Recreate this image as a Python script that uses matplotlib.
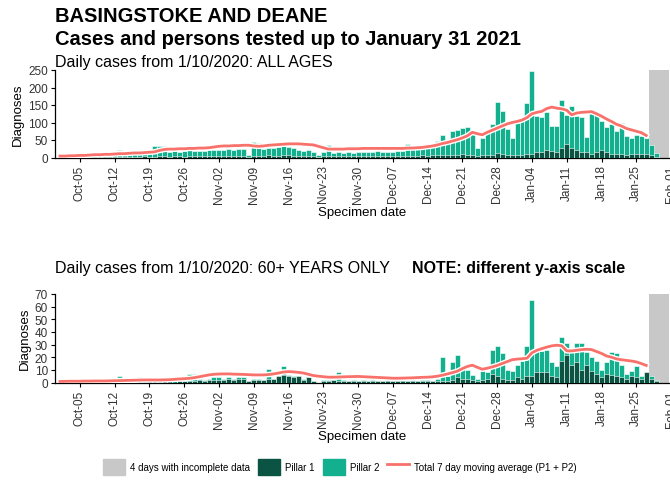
import numpy as np
import matplotlib
matplotlib.use('Agg')
from matplotlib import pyplot as plt
from matplotlib import patheffects as pe
from matplotlib.patches import Patch
from matplotlib.lines import Line2D

plt.rcParams['font.family'] = ['Liberation Sans', 'DejaVu Sans']

# one bar per day, 1 Oct 2020 .. 31 Jan 2021
tick_days = [4, 11, 18, 25, 32, 39, 46, 53, 60, 67, 74, 81, 88, 95, 102, 109, 116, 123]
tick_labels = ['Oct-05', 'Oct-12', 'Oct-19', 'Oct-26', 'Nov-02', 'Nov-09', 'Nov-16',
               'Nov-23', 'Nov-30', 'Dec-07', 'Dec-14', 'Dec-21', 'Dec-28', 'Jan-04',
               'Jan-11', 'Jan-18', 'Jan-25', 'Feb-01']

# ALL AGES: total (pillar 1 + pillar 2) and pillar 1
all_total = [3, 2, 4, 3, 5, 4, 6, 8, 7, 9, 8, 10, 22, 9, 10, 11, 9, 12, 14, 33, 33, 32, 16, 18, 17, 20, 34, 18, 19, 20, 22,
             21, 22, 21, 23, 22, 24, 23, 8, 44, 42, 25, 26, 27, 29, 32, 31, 27, 22, 20, 21, 17, 8, 15, 36, 14, 15, 14, 16, 13, 15,
             16, 15, 17, 18, 16, 17, 15, 18, 20, 40, 24, 26, 28, 31, 35, 48, 64, 43, 76, 79, 84, 86, 73, 28, 57, 78, 95, 160, 134, 81, 57,
             100, 105, 157, 246, 119, 117, 131, 91, 91, 165, 122, 147, 118, 117, 60, 134, 129, 105, 86, 95, 76, 100, 62, 57, 64, 62, 55, 35, 14, 0, 0]
all_p1 = [1, 0, 1, 1, 1, 1, 2, 1, 2, 2, 1, 2, 2, 2, 1, 2, 2, 3, 2, 2, 3, 3, 2, 3, 3, 2, 3, 4, 3, 3, 4,
          4, 3, 4, 5, 4, 3, 4, 2, 4, 5, 4, 6, 5, 4, 8, 6, 5, 4, 5, 4, 3, 2, 3, 4, 3, 4, 3, 3, 4, 3,
          3, 4, 3, 4, 5, 4, 3, 4, 4, 5, 4, 5, 6, 5, 6, 7, 7, 6, 8, 8, 9, 7, 7, 5, 6, 8, 8, 12, 11, 6, 6,
          7, 8, 10, 11, 17, 17, 21, 19, 17, 27, 38, 26, 21, 17, 15, 11, 17, 21, 17, 11, 10, 10, 8, 9, 10, 10, 11, 6, 2, 0, 0]
all_ma = [4, 4, 5, 5, 6, 6, 7, 8, 8, 9, 9, 10, 11, 11, 12, 13, 13, 14, 15, 16, 20, 23, 24, 24, 25, 25, 26, 26, 27, 27, 28,
          30, 32, 33, 33, 34, 34, 35, 35, 33, 32, 33, 35, 36, 37, 38, 39, 39, 39, 38, 37, 36, 32, 28, 24, 24, 24, 24, 25, 25, 25,
          26, 26, 26, 26, 26, 26, 26, 26, 26, 27, 27, 28, 29, 31, 33, 36, 40, 43, 47, 51, 56, 62, 72, 68, 65, 72, 78, 84, 90, 96,
          100, 103, 107, 114, 125, 129, 132, 140, 144, 141, 139, 135, 122, 127, 129, 130, 131, 125, 118, 110, 103, 95, 90, 83, 79, 75, 71, 63]

# 60+ YEARS ONLY
old_total = [0, 1, 0, 0, 1, 0, 1, 0, 1, 0, 1, 1, 5, 0, 1, 1, 4, 1, 1, 2, 1, 1, 2, 1, 2, 1, 7, 7, 3, 2, 3,
             4, 4, 3, 4, 3, 4, 4, 1, 3, 3, 2, 11, 3, 5, 13, 6, 5, 5, 3, 4, 1, 0, 2, 2, 2, 8, 2, 1, 2, 1,
             2, 1, 2, 1, 1, 2, 1, 1, 2, 1, 2, 1, 2, 2, 1, 3, 20, 5, 16, 22, 13, 10, 6, 3, 9, 8, 26, 29, 23, 10, 9,
             14, 17, 29, 65, 25, 25, 26, 16, 13, 36, 31, 25, 31, 31, 24, 20, 17, 10, 16, 24, 23, 14, 7, 9, 13, 5, 6, 5, 2, 0, 0]
old_p1 = [0, 0, 0, 0, 1, 0, 0, 0, 1, 0, 0, 1, 1, 0, 0, 1, 1, 0, 1, 1, 0, 1, 1, 0, 1, 1, 1, 1, 2, 1, 2,
          2, 2, 2, 3, 2, 3, 3, 1, 2, 2, 2, 3, 3, 5, 6, 5, 4, 5, 2, 4, 1, 0, 1, 1, 2, 1, 1, 1, 1, 1,
          1, 1, 1, 1, 1, 1, 1, 1, 1, 1, 1, 1, 1, 1, 1, 1, 1, 1, 2, 4, 3, 3, 2, 1, 2, 3, 7, 5, 3, 2, 2,
          4, 3, 5, 5, 8, 8, 8, 5, 4, 17, 22, 14, 16, 10, 14, 9, 7, 4, 7, 6, 5, 4, 3, 5, 4, 3, 8, 3, 1, 0, 0]
old_ma = [0.8, 0.9, 1, 1, 1, 1.1, 1.1, 1.2, 1.2, 1.2, 1.3, 1.4, 1.5, 1.6, 1.7, 1.8, 1.9, 2, 2, 2, 2, 2.1, 2.2, 2.5, 2.8, 3, 3.3, 3.8, 4.5, 5.3, 6,
          6.5, 6.7, 6.8, 6.8, 6.6, 6.5, 6.4, 6.2, 6, 6, 6, 6.3, 6.8, 7.5, 8.3, 8.6, 8.4, 8, 7.5, 6.5, 5.5, 5, 4.6, 4.2, 4.2, 4.3, 4.5, 4.6, 4.7, 4.8,
          4.6, 4.4, 4.2, 4, 3.8, 3.6, 3.4, 3.4, 3.5, 3.6, 3.7, 3.9, 4.1, 4.2, 4.5, 5, 5.8, 6.8, 7.8, 9, 11, 12.7, 13.7, 12, 10.5, 11.3, 12.3, 13.5, 15, 16.5, 18,
          18.5, 18.8, 19.2, 23.5, 25.5, 26.8, 28, 29, 29.5, 29, 25, 25, 25.5, 26, 26.3, 26, 24.5, 23, 21, 20, 18.7, 18, 17.5, 17, 16.3, 15, 13.5]

incomplete = (119, 122)   # last 4 days

TEAL = '#13b08f'
DARK = '#0b5443'
GREY = '#c8c8c8'
RED = '#f8716a'


def panel(ax, total, p1, ma, ymax, step):
    days = np.arange(len(total))
    ax.axvspan(incomplete[0] - 0.5, incomplete[1] + 0.5, color=GREY, lw=0, zorder=0)
    ax.bar(days, total, width=1, color=TEAL, edgecolor='white', linewidth=0.4, zorder=2)
    ax.bar(days, p1, width=1, color=DARK, edgecolor='white', linewidth=0.4, zorder=3)
    ax.plot(np.arange(len(ma)), ma, color=RED, lw=2, zorder=4,
            path_effects=[pe.Stroke(linewidth=4, foreground='white'), pe.Normal()])
    ax.set_xlim(-1, 125)
    ax.set_ylim(0, ymax)
    ax.set_yticks(np.arange(0, ymax + 1, step))
    ax.set_xticks(tick_days)
    ax.set_xticklabels(tick_labels, rotation=90)
    ax.tick_params(labelsize=8.5, length=3, width=0.8, pad=2,
                   colors='black', labelcolor='#333333')
    for s in ('top', 'right'):
        ax.spines[s].set_visible(False)
    for s in ('left', 'bottom'):
        ax.spines[s].set_linewidth(0.9)
    ax.set_ylabel('Diagnoses', fontsize=9.5, labelpad=3)


fig = plt.figure(figsize=(6.7, 4.85), dpi=100)
W, H = 670.0, 485.0
ax1 = fig.add_axes([55 / W, 1 - 158.5 / H, 626 / W, 87.5 / H])
ax2 = fig.add_axes([55 / W, 1 - 383.5 / H, 626 / W, 88.5 / H])
panel(ax1, all_total, all_p1, all_ma, 250, 50)
panel(ax2, old_total, old_p1, old_ma, 70, 10)

fig.text(55 / W, 1 - 22 / H, 'BASINGSTOKE AND DEANE', fontsize=14.5, fontweight='bold')
fig.text(55 / W, 1 - 45 / H, 'Cases and persons tested up to January 31 2021', fontsize=14.5, fontweight='bold')
fig.text(55 / W, 1 - 67 / H, 'Daily cases from 1/10/2020: ALL AGES', fontsize=11.5)
fig.text(55 / W, 1 - 273 / H, 'Daily cases from 1/10/2020: 60+ YEARS ONLY', fontsize=11.5)
fig.text(412 / W, 1 - 273 / H, 'NOTE: different y-axis scale', fontsize=11.5, fontweight='bold')
fig.text(362 / W, 1 - 213 / H, 'Specimen date', fontsize=9.5, ha='center', va='center')
fig.text(362 / W, 1 - 437 / H, 'Specimen date', fontsize=9.5, ha='center', va='center')

handles = [Patch(color=GREY, label='4 days with incomplete data'),
           Patch(color=DARK, label='Pillar 1'),
           Patch(color=TEAL, label='Pillar 2'),
           Line2D([], [], color=RED, lw=2, label='Total 7 day moving average (P1 + P2)')]
fig.legend(handles=handles, loc='center', bbox_to_anchor=(340 / W, 1 - 468 / H), ncol=4,
           frameon=False, fontsize=7, handlelength=2.3, handleheight=2.3,
           columnspacing=0.8, handletextpad=0.5)

fig.savefig('out.png', dpi=100)
